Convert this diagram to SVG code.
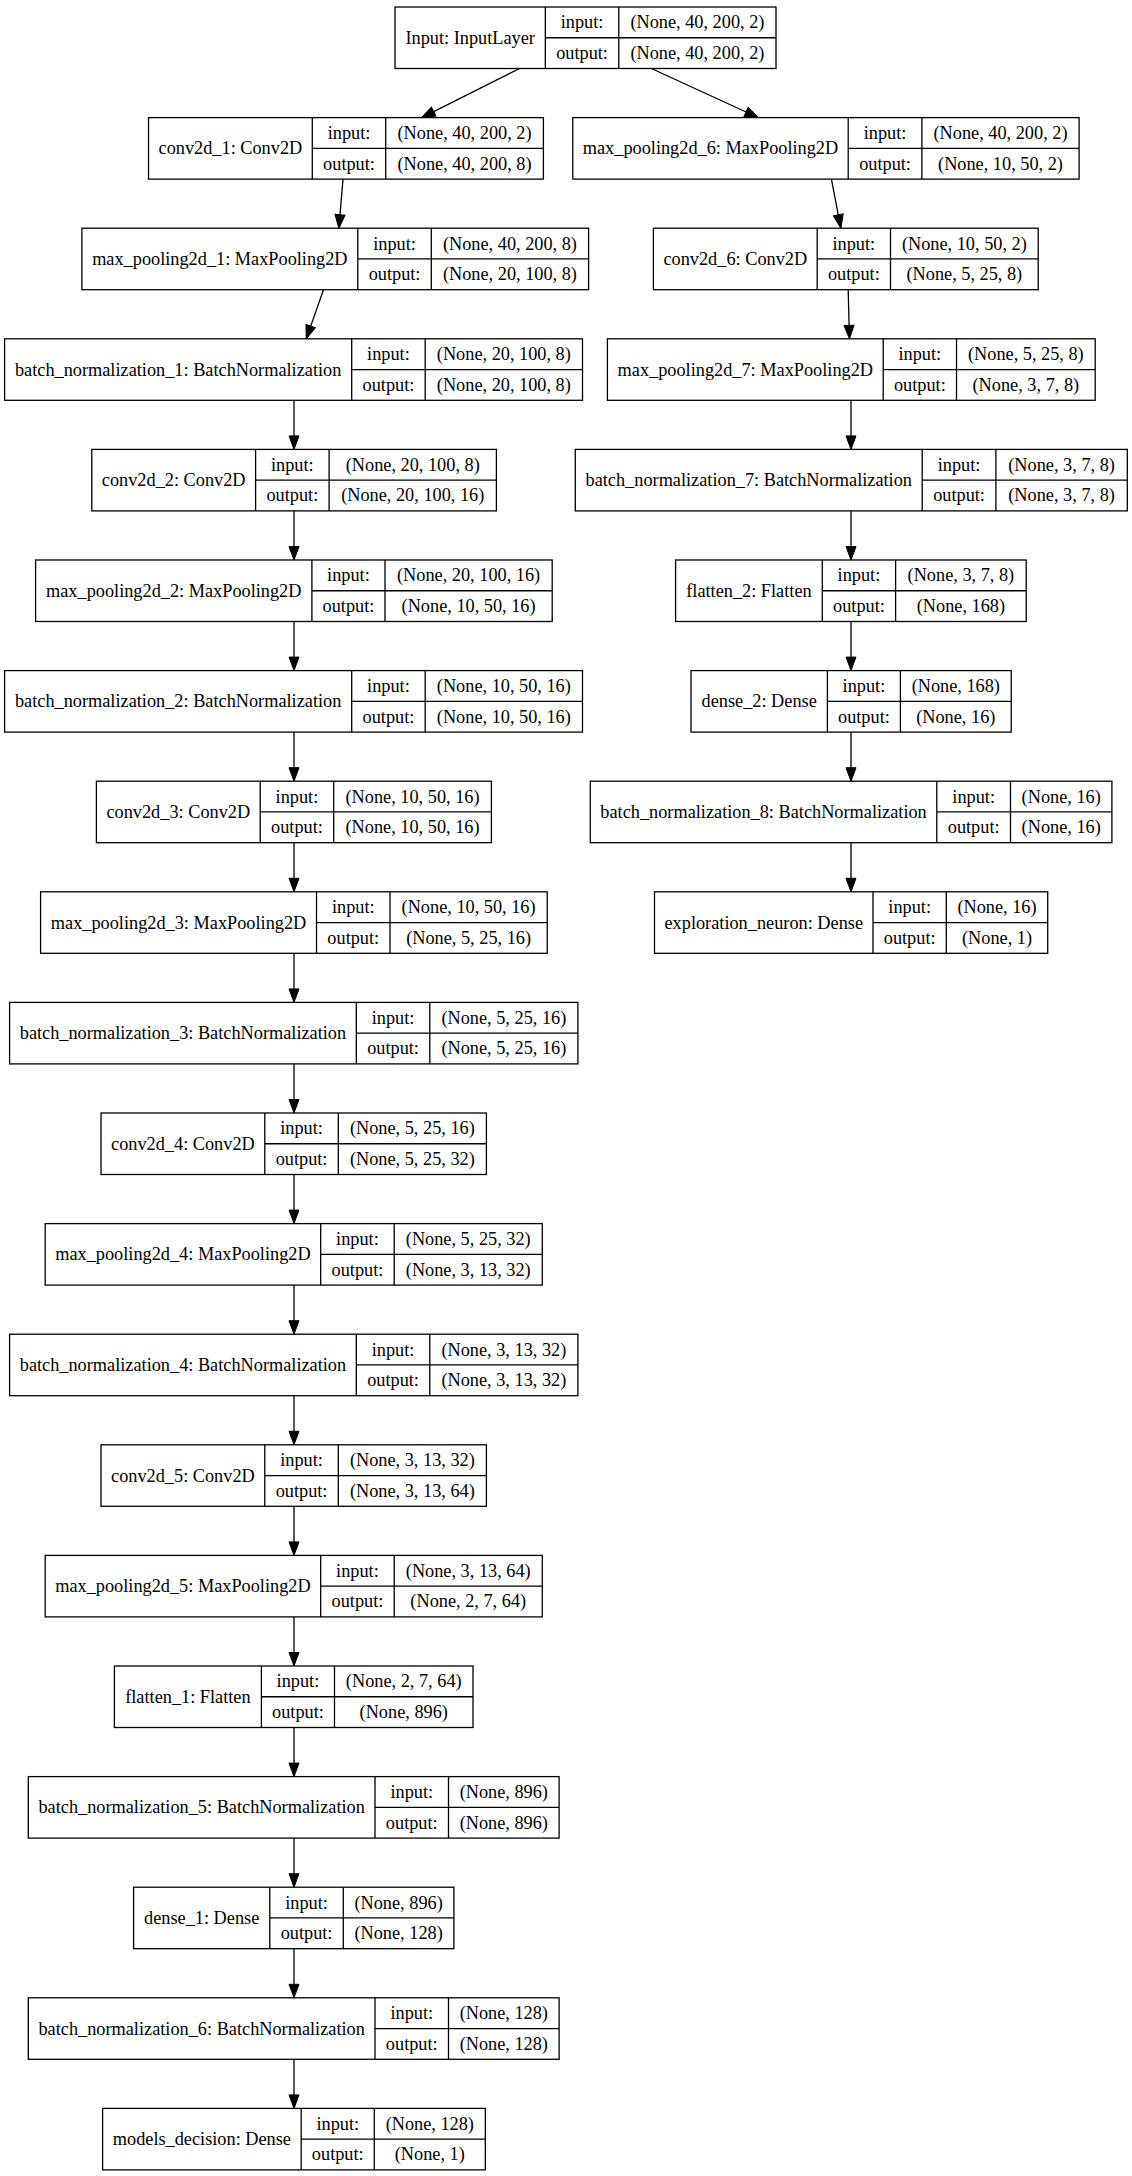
<svg xmlns="http://www.w3.org/2000/svg" width="1132" height="2176" viewBox="0 0 1132 2176">
<defs>
<style>
.n rect{fill:#fff;stroke:#000;stroke-width:1.3}
.n path{fill:none;stroke:#000;stroke-width:1.3}
.n text{font-family:"Liberation Serif","Times New Roman",serif;font-size:18.3px;text-anchor:middle;fill:#000}
.e line{stroke:#000;stroke-width:1.3;marker-end:url(#arr)}
</style>
<marker id="arr" markerUnits="userSpaceOnUse" markerWidth="14" markerHeight="10" viewBox="0 0 13.5 10" refX="0" refY="5" orient="auto" overflow="visible">
<path d="M0,0L13.5,5L0,10z" fill="#000" stroke="#000" stroke-width="1"/>
</marker>
</defs>
<rect width="1132" height="2176" fill="#fff"/>

<g class="e" id="connectors">
<line x1="519.6" y1="68.5" x2="433.7" y2="111.6"/>
<line x1="651.4" y1="68.5" x2="746.1" y2="112"/>
<line x1="343" y1="179.1" x2="340" y2="214.8"/>
<line x1="323.5" y1="289.7" x2="310.7" y2="326.1"/>
<line x1="831.4" y1="179.1" x2="838.3" y2="214.9"/>
<line x1="848.2" y1="289.7" x2="849.1" y2="325.3"/>
<line x1="294" y1="400.3" x2="294" y2="435.9"/>
<line x1="294" y1="510.9" x2="294" y2="546.5"/>
<line x1="294" y1="621.5" x2="294" y2="657.1"/>
<line x1="294" y1="732.1" x2="294" y2="767.7"/>
<line x1="294" y1="842.7" x2="294" y2="878.3"/>
<line x1="294" y1="953.3" x2="294" y2="988.9"/>
<line x1="294" y1="1063.9" x2="294" y2="1099.5"/>
<line x1="294" y1="1174.5" x2="294" y2="1210.1"/>
<line x1="294" y1="1285.1" x2="294" y2="1320.7"/>
<line x1="294" y1="1395.7" x2="294" y2="1431.3"/>
<line x1="294" y1="1506.3" x2="294" y2="1541.9"/>
<line x1="294" y1="1616.9" x2="294" y2="1652.5"/>
<line x1="294" y1="1727.5" x2="294" y2="1763.1"/>
<line x1="294" y1="1838.1" x2="294" y2="1873.7"/>
<line x1="294" y1="1948.7" x2="294" y2="1984.3"/>
<line x1="294" y1="2059.3" x2="294" y2="2094.9"/>
<line x1="851" y1="400.3" x2="851" y2="435.9"/>
<line x1="851" y1="510.9" x2="851" y2="546.5"/>
<line x1="851" y1="621.5" x2="851" y2="657.1"/>
<line x1="851" y1="732.1" x2="851" y2="767.7"/>
<line x1="851" y1="842.7" x2="851" y2="878.3"/>
</g>

<g class="n" id="input" transform="translate(0,7)">
<rect x="395" y="0" width="381" height="61.5"/>
<path d="M545.3,0V61.5M618.8,0V61.5M545.3,30.75H776"/>
<text x="470.15" y="36.75">Input: InputLayer</text>
<text x="582.05" y="21.4">input:</text><text x="582.05" y="52.1">output:</text>
<text x="697.4" y="21.4">(None, 40, 200, 2)</text><text x="697.4" y="52.1">(None, 40, 200, 2)</text>
</g>

<g class="n" id="conv2d_1" transform="translate(0,117.6)">
<rect x="148.5" y="0" width="394.9" height="61.5"/>
<path d="M312.3,0V61.5M385.7,0V61.5M312.3,30.75H543.4"/>
<text x="230.4" y="36.75">conv2d_1: Conv2D</text>
<text x="349" y="21.4">input:</text><text x="349" y="52.1">output:</text>
<text x="464.55" y="21.4">(None, 40, 200, 2)</text><text x="464.55" y="52.1">(None, 40, 200, 8)</text>
</g>

<g class="n" id="max_pooling2d_1" transform="translate(0,228.2)">
<rect x="81.9" y="0" width="506.7" height="61.5"/>
<path d="M357.8,0V61.5M431.3,0V61.5M357.8,30.75H588.6"/>
<text x="219.85" y="36.75">max_pooling2d_1: MaxPooling2D</text>
<text x="394.55" y="21.4">input:</text><text x="394.55" y="52.1">output:</text>
<text x="509.95" y="21.4">(None, 40, 200, 8)</text><text x="509.95" y="52.1">(None, 20, 100, 8)</text>
</g>

<g class="n" id="batch_normalization_1" transform="translate(0,338.8)">
<rect x="4.6" y="0" width="577.9" height="61.5"/>
<path d="M351.7,0V61.5M425.2,0V61.5M351.7,30.75H582.5"/>
<text x="178.15" y="36.75">batch_normalization_1: BatchNormalization</text>
<text x="388.45" y="21.4">input:</text><text x="388.45" y="52.1">output:</text>
<text x="503.85" y="21.4">(None, 20, 100, 8)</text><text x="503.85" y="52.1">(None, 20, 100, 8)</text>
</g>

<g class="n" id="conv2d_2" transform="translate(0,449.4)">
<rect x="91.8" y="0" width="404.6" height="61.5"/>
<path d="M255.6,0V61.5M329.1,0V61.5M255.6,30.75H496.4"/>
<text x="173.7" y="36.75">conv2d_2: Conv2D</text>
<text x="292.35" y="21.4">input:</text><text x="292.35" y="52.1">output:</text>
<text x="412.75" y="21.4">(None, 20, 100, 8)</text><text x="412.75" y="52.1">(None, 20, 100, 16)</text>
</g>

<g class="n" id="max_pooling2d_2" transform="translate(0,560)">
<rect x="35.6" y="0" width="516.6" height="61.5"/>
<path d="M311.9,0V61.5M385,0V61.5M311.9,30.75H552.2"/>
<text x="173.75" y="36.75">max_pooling2d_2: MaxPooling2D</text>
<text x="348.45" y="21.4">input:</text><text x="348.45" y="52.1">output:</text>
<text x="468.6" y="21.4">(None, 20, 100, 16)</text><text x="468.6" y="52.1">(None, 10, 50, 16)</text>
</g>

<g class="n" id="batch_normalization_2" transform="translate(0,670.6)">
<rect x="4.6" y="0" width="577.9" height="61.5"/>
<path d="M351.7,0V61.5M425.2,0V61.5M351.7,30.75H582.5"/>
<text x="178.15" y="36.75">batch_normalization_2: BatchNormalization</text>
<text x="388.45" y="21.4">input:</text><text x="388.45" y="52.1">output:</text>
<text x="503.85" y="21.4">(None, 10, 50, 16)</text><text x="503.85" y="52.1">(None, 10, 50, 16)</text>
</g>

<g class="n" id="conv2d_3" transform="translate(0,781.2)">
<rect x="96.4" y="0" width="395" height="61.5"/>
<path d="M260.2,0V61.5M333.7,0V61.5M260.2,30.75H491.4"/>
<text x="178.3" y="36.75">conv2d_3: Conv2D</text>
<text x="296.95" y="21.4">input:</text><text x="296.95" y="52.1">output:</text>
<text x="412.55" y="21.4">(None, 10, 50, 16)</text><text x="412.55" y="52.1">(None, 10, 50, 16)</text>
</g>

<g class="n" id="max_pooling2d_3" transform="translate(0,891.8)">
<rect x="40.6" y="0" width="506.6" height="61.5"/>
<path d="M316.5,0V61.5M390,0V61.5M316.5,30.75H547.2"/>
<text x="178.55" y="36.75">max_pooling2d_3: MaxPooling2D</text>
<text x="353.25" y="21.4">input:</text><text x="353.25" y="52.1">output:</text>
<text x="468.6" y="21.4">(None, 10, 50, 16)</text><text x="468.6" y="52.1">(None, 5, 25, 16)</text>
</g>

<g class="n" id="batch_normalization_3" transform="translate(0,1002.4)">
<rect x="9.6" y="0" width="568.3" height="61.5"/>
<path d="M356.3,0V61.5M429.8,0V61.5M356.3,30.75H577.9"/>
<text x="182.95" y="36.75">batch_normalization_3: BatchNormalization</text>
<text x="393.05" y="21.4">input:</text><text x="393.05" y="52.1">output:</text>
<text x="503.85" y="21.4">(None, 5, 25, 16)</text><text x="503.85" y="52.1">(None, 5, 25, 16)</text>
</g>

<g class="n" id="conv2d_4" transform="translate(0,1113)">
<rect x="101" y="0" width="385.4" height="61.5"/>
<path d="M264.8,0V61.5M338.3,0V61.5M264.8,30.75H486.4"/>
<text x="182.9" y="36.75">conv2d_4: Conv2D</text>
<text x="301.55" y="21.4">input:</text><text x="301.55" y="52.1">output:</text>
<text x="412.35" y="21.4">(None, 5, 25, 16)</text><text x="412.35" y="52.1">(None, 5, 25, 32)</text>
</g>

<g class="n" id="max_pooling2d_4" transform="translate(0,1223.6)">
<rect x="45.2" y="0" width="497.1" height="61.5"/>
<path d="M320.7,0V61.5M394.2,0V61.5M320.7,30.75H542.3"/>
<text x="182.95" y="36.75">max_pooling2d_4: MaxPooling2D</text>
<text x="357.45" y="21.4">input:</text><text x="357.45" y="52.1">output:</text>
<text x="468.25" y="21.4">(None, 5, 25, 32)</text><text x="468.25" y="52.1">(None, 3, 13, 32)</text>
</g>

<g class="n" id="batch_normalization_4" transform="translate(0,1334.2)">
<rect x="9.6" y="0" width="568.3" height="61.5"/>
<path d="M356.3,0V61.5M429.8,0V61.5M356.3,30.75H577.9"/>
<text x="182.95" y="36.75">batch_normalization_4: BatchNormalization</text>
<text x="393.05" y="21.4">input:</text><text x="393.05" y="52.1">output:</text>
<text x="503.85" y="21.4">(None, 3, 13, 32)</text><text x="503.85" y="52.1">(None, 3, 13, 32)</text>
</g>

<g class="n" id="conv2d_5" transform="translate(0,1444.8)">
<rect x="101" y="0" width="385.4" height="61.5"/>
<path d="M264.8,0V61.5M338.3,0V61.5M264.8,30.75H486.4"/>
<text x="182.9" y="36.75">conv2d_5: Conv2D</text>
<text x="301.55" y="21.4">input:</text><text x="301.55" y="52.1">output:</text>
<text x="412.35" y="21.4">(None, 3, 13, 32)</text><text x="412.35" y="52.1">(None, 3, 13, 64)</text>
</g>

<g class="n" id="max_pooling2d_5" transform="translate(0,1555.4)">
<rect x="45.2" y="0" width="497.1" height="61.5"/>
<path d="M320.7,0V61.5M394.2,0V61.5M320.7,30.75H542.3"/>
<text x="182.95" y="36.75">max_pooling2d_5: MaxPooling2D</text>
<text x="357.45" y="21.4">input:</text><text x="357.45" y="52.1">output:</text>
<text x="468.25" y="21.4">(None, 3, 13, 64)</text><text x="468.25" y="52.1">(None, 2, 7, 64)</text>
</g>

<g class="n" id="flatten_1" transform="translate(0,1666)">
<rect x="114.4" y="0" width="358.6" height="61.5"/>
<path d="M261.4,0V61.5M334.5,0V61.5M261.4,30.75H473"/>
<text x="187.9" y="36.75">flatten_1: Flatten</text>
<text x="297.95" y="21.4">input:</text><text x="297.95" y="52.1">output:</text>
<text x="403.75" y="21.4">(None, 2, 7, 64)</text><text x="403.75" y="52.1">(None, 896)</text>
</g>

<g class="n" id="batch_normalization_5" transform="translate(0,1776.6)">
<rect x="28.3" y="0" width="530.8" height="61.5"/>
<path d="M375,0V61.5M448.5,0V61.5M375,30.75H559.1"/>
<text x="201.65" y="36.75">batch_normalization_5: BatchNormalization</text>
<text x="411.75" y="21.4">input:</text><text x="411.75" y="52.1">output:</text>
<text x="503.8" y="21.4">(None, 896)</text><text x="503.8" y="52.1">(None, 896)</text>
</g>

<g class="n" id="dense_1" transform="translate(0,1887.2)">
<rect x="133.6" y="0" width="320.3" height="61.5"/>
<path d="M269.8,0V61.5M343.3,0V61.5M269.8,30.75H453.9"/>
<text x="201.7" y="36.75">dense_1: Dense</text>
<text x="306.55" y="21.4">input:</text><text x="306.55" y="52.1">output:</text>
<text x="398.6" y="21.4">(None, 896)</text><text x="398.6" y="52.1">(None, 128)</text>
</g>

<g class="n" id="batch_normalization_6" transform="translate(0,1997.8)">
<rect x="28.3" y="0" width="530.8" height="61.5"/>
<path d="M375,0V61.5M448.5,0V61.5M375,30.75H559.1"/>
<text x="201.65" y="36.75">batch_normalization_6: BatchNormalization</text>
<text x="411.75" y="21.4">input:</text><text x="411.75" y="52.1">output:</text>
<text x="503.8" y="21.4">(None, 128)</text><text x="503.8" y="52.1">(None, 128)</text>
</g>

<g class="n" id="models_decision" transform="translate(0,2108.4)">
<rect x="102.6" y="0" width="382.7" height="61.5"/>
<path d="M301.2,0V61.5M374.3,0V61.5M301.2,30.75H485.3"/>
<text x="201.9" y="36.75">models_decision: Dense</text>
<text x="337.75" y="21.4">input:</text><text x="337.75" y="52.1">output:</text>
<text x="429.8" y="21.4">(None, 128)</text><text x="429.8" y="52.1">(None, 1)</text>
</g>

<g class="n" id="max_pooling2d_6" transform="translate(0,117.6)">
<rect x="572.8" y="0" width="506.3" height="61.5"/>
<path d="M848.2,0V61.5M921.9,0V61.5M848.2,30.75H1079.1"/>
<text x="710.5" y="36.75">max_pooling2d_6: MaxPooling2D</text>
<text x="885.05" y="21.4">input:</text><text x="885.05" y="52.1">output:</text>
<text x="1000.5" y="21.4">(None, 40, 200, 2)</text><text x="1000.5" y="52.1">(None, 10, 50, 2)</text>
</g>

<g class="n" id="conv2d_6" transform="translate(0,228.2)">
<rect x="653.4" y="0" width="384.8" height="61.5"/>
<path d="M817.2,0V61.5M890.5,0V61.5M817.2,30.75H1038.2"/>
<text x="735.3" y="36.75">conv2d_6: Conv2D</text>
<text x="853.85" y="21.4">input:</text><text x="853.85" y="52.1">output:</text>
<text x="964.35" y="21.4">(None, 10, 50, 2)</text><text x="964.35" y="52.1">(None, 5, 25, 8)</text>
</g>

<g class="n" id="max_pooling2d_7" transform="translate(0,338.8)">
<rect x="607.4" y="0" width="487.8" height="61.5"/>
<path d="M883.2,0V61.5M956.5,0V61.5M883.2,30.75H1095.2"/>
<text x="745.3" y="36.75">max_pooling2d_7: MaxPooling2D</text>
<text x="919.85" y="21.4">input:</text><text x="919.85" y="52.1">output:</text>
<text x="1025.85" y="21.4">(None, 5, 25, 8)</text><text x="1025.85" y="52.1">(None, 3, 7, 8)</text>
</g>

<g class="n" id="batch_normalization_7" transform="translate(0,449.4)">
<rect x="575.3" y="0" width="552" height="61.5"/>
<path d="M922.2,0V61.5M995.9,0V61.5M922.2,30.75H1127.3"/>
<text x="748.75" y="36.75">batch_normalization_7: BatchNormalization</text>
<text x="959.05" y="21.4">input:</text><text x="959.05" y="52.1">output:</text>
<text x="1061.6" y="21.4">(None, 3, 7, 8)</text><text x="1061.6" y="52.1">(None, 3, 7, 8)</text>
</g>

<g class="n" id="flatten_2" transform="translate(0,560)">
<rect x="675.6" y="0" width="350.6" height="61.5"/>
<path d="M822.3,0V61.5M895.6,0V61.5M822.3,30.75H1026.2"/>
<text x="748.95" y="36.75">flatten_2: Flatten</text>
<text x="858.95" y="21.4">input:</text><text x="858.95" y="52.1">output:</text>
<text x="960.9" y="21.4">(None, 3, 7, 8)</text><text x="960.9" y="52.1">(None, 168)</text>
</g>

<g class="n" id="dense_2" transform="translate(0,670.6)">
<rect x="691" y="0" width="320.2" height="61.5"/>
<path d="M827.4,0V61.5M900.4,0V61.5M827.4,30.75H1011.2"/>
<text x="759.2" y="36.75">dense_2: Dense</text>
<text x="863.9" y="21.4">input:</text><text x="863.9" y="52.1">output:</text>
<text x="955.8" y="21.4">(None, 168)</text><text x="955.8" y="52.1">(None, 16)</text>
</g>

<g class="n" id="batch_normalization_8" transform="translate(0,781.2)">
<rect x="590.3" y="0" width="521.6" height="61.5"/>
<path d="M936.8,0V61.5M1010.5,0V61.5M936.8,30.75H1111.9"/>
<text x="763.55" y="36.75">batch_normalization_8: BatchNormalization</text>
<text x="973.65" y="21.4">input:</text><text x="973.65" y="52.1">output:</text>
<text x="1061.2" y="21.4">(None, 16)</text><text x="1061.2" y="52.1">(None, 16)</text>
</g>

<g class="n" id="exploration_neuron" transform="translate(0,891.8)">
<rect x="654.5" y="0" width="393.2" height="61.5"/>
<path d="M873,0V61.5M946.3,0V61.5M873,30.75H1047.7"/>
<text x="763.75" y="36.75">exploration_neuron: Dense</text>
<text x="909.65" y="21.4">input:</text><text x="909.65" y="52.1">output:</text>
<text x="997" y="21.4">(None, 16)</text><text x="997" y="52.1">(None, 1)</text>
</g>
</svg>
